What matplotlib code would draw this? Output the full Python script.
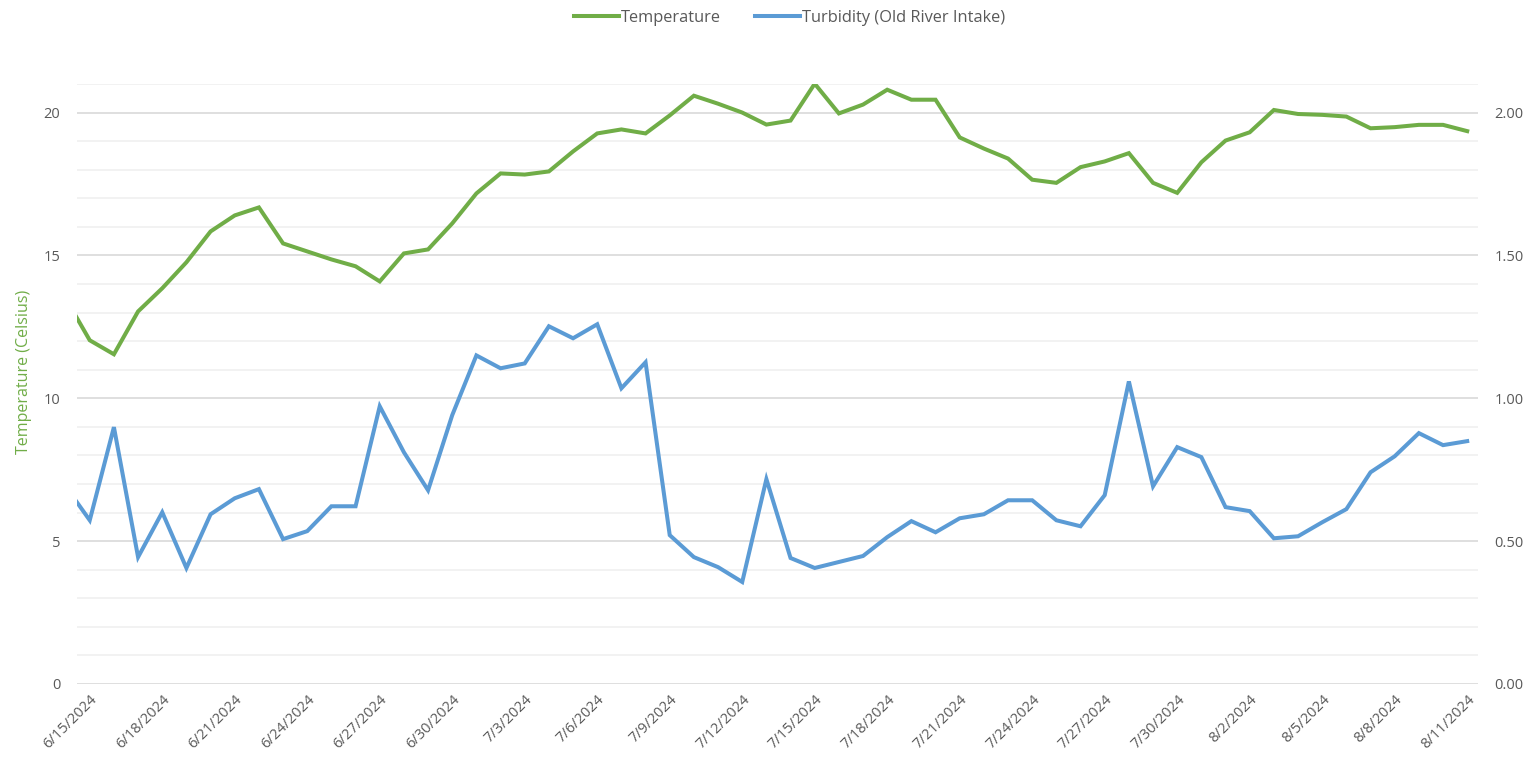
import pandas as pd
import numpy as np
import matplotlib
matplotlib.use('Agg')
import matplotlib.pyplot as plt

# daily readings, 6/14/2024 .. 8/11/2024 (first day sits just off the left edge)
dates = pd.date_range('2024-06-14', '2024-08-11', freq='D')

temperature = [
    13.5, 12.03, 11.54, 13.04, 13.85, 14.76, 15.84, 16.40, 16.68, 15.42,
    15.14, 14.86, 14.62, 14.09, 15.07, 15.21, 16.12, 17.17, 17.87, 17.83,
    17.94, 18.64, 19.27, 19.41, 19.27, 19.90, 20.59, 20.31, 20.00, 19.58,
    19.72, 21.01, 19.97, 20.28, 20.80, 20.45, 20.45, 19.13, 18.74, 18.39,
    17.65, 17.54, 18.09, 18.29, 18.58, 17.54, 17.19, 18.26, 19.02, 19.31,
    20.09, 19.95, 19.92, 19.86, 19.45, 19.49, 19.57, 19.57, 19.35,
]

turbidity = [
    0.692, 0.573, 0.899, 0.444, 0.601, 0.406, 0.594, 0.650, 0.682, 0.507,
    0.535, 0.622, 0.622, 0.972, 0.811, 0.678, 0.941, 1.150, 1.105, 1.122,
    1.252, 1.210, 1.259, 1.035, 1.126, 0.521, 0.444, 0.409, 0.357, 0.717,
    0.441, 0.406, 0.427, 0.448, 0.514, 0.570, 0.531, 0.580, 0.594, 0.643,
    0.643, 0.573, 0.552, 0.661, 1.059, 0.692, 0.829, 0.794, 0.619, 0.605,
    0.510, 0.517, 0.566, 0.612, 0.741, 0.797, 0.878, 0.836, 0.850,
]

GREEN = '#70AD47'
BLUE = '#5B9BD5'
GREY = '#595959'

plt.rcParams['font.family'] = ['Open Sans', 'DejaVu Sans']

fig = plt.figure(figsize=(15.32, 7.65), dpi=100)
ax = fig.add_axes([0.0503, 0.1059, 0.9145, 0.7843])
ax2 = ax.twinx()

# gridlines: light every 1 degree, darker every 5
ax.set_ylim(0, 21)
ax.set_yticks([0, 5, 10, 15, 20])
ax.set_yticks(np.arange(0, 22, 1), minor=True)
ax.grid(True, which='minor', axis='y', color='#f0f0f0', linewidth=1.2)
ax.grid(True, which='major', axis='y', color='#d9d9d9', linewidth=1.2)
ax.set_axisbelow(True)

l1, = ax.plot(dates, temperature, color=GREEN, linewidth=2.9,
              solid_joinstyle='miter', label='Temperature', zorder=3)
l2, = ax2.plot(dates, turbidity, color=BLUE, linewidth=2.9,
               solid_joinstyle='miter', label='Turbidity (Old River Intake)', zorder=3)

ax2.set_ylim(0, 2.1)
ax2.set_yticks([0, 0.5, 1.0, 1.5, 2.0])
ax2.set_yticklabels([f'{v:.2f}' for v in [0, 0.5, 1.0, 1.5, 2.0]])

left = pd.Timestamp('2024-06-15') - pd.Timedelta(hours=12.6)
right = pd.Timestamp('2024-08-11') + pd.Timedelta(hours=10.8)
ax.set_xlim(left, right)

ticks = pd.date_range('2024-06-15', '2024-08-11', freq='3D')
ax.set_xticks(ticks)
ax.set_xticklabels([f'{d.month}/{d.day}/{d.year}' for d in ticks],
                   rotation=45, ha='right', rotation_mode='anchor')

for a in (ax, ax2):
    for s in a.spines.values():
        s.set_visible(False)
    a.tick_params(length=0, colors=GREY, labelsize=10.5)
ax.tick_params(axis='x', pad=6)
ax.tick_params(axis='y', which='both', length=0, pad=12)
ax2.tick_params(axis='y', pad=12)

ax.set_ylabel('Temperature (Celsius)', color=GREEN, fontsize=11.5)
ax.yaxis.set_label_coords(-0.032, 0.52)

fig.legend(handles=[l1, l2], loc='upper center', bbox_to_anchor=(0.5155, 1.0),
           ncol=2, frameon=False, fontsize=11.8, labelcolor=GREY,
           handlelength=2.7, columnspacing=2.1, handletextpad=0.15,
           borderaxespad=0.2)

fig.savefig('out.png', dpi=100)
